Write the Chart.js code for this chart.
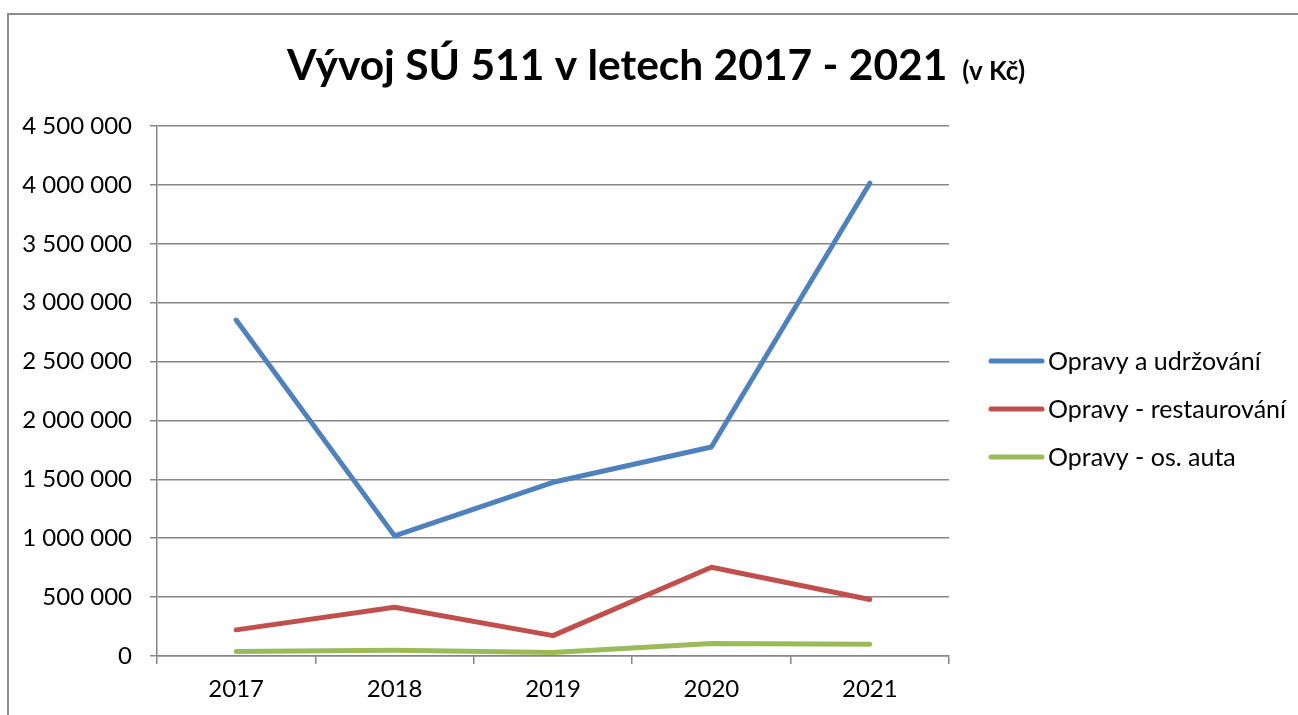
<!DOCTYPE html>
<html>
<head>
<meta charset="utf-8">
<script src="https://cdn.jsdelivr.net/npm/chart.js@4.4.0/dist/chart.umd.min.js"></script>
<style>
  body { margin: 0; background: #fff; overflow: hidden; }
  #frame { position: absolute; left: 7px; top: 13px; width: 1400px; height: 800px;
           border-top: 2px solid #8c8c8c; border-left: 2px solid #8c8c8c; }
  #chart { position: absolute; left: 0; top: 0; }
</style>
</head>
<body>
<div id="frame"></div>
<canvas id="chart" width="1298" height="715"></canvas>
<script>
const years = ['2017', '2018', '2019', '2020', '2021'];
const opravyUdrzovani = [2852000, 1020000, 1475000, 1775000, 4014000];
const opravyRestaurovani = [222000, 414000, 173000, 754000, 480000];
const opravyAuta = [38000, 48000, 30000, 106000, 100000];
const seriesNames = ['Opravy a udržování', 'Opravy - restaurování', 'Opravy - os. auta'];
const seriesColors = ['#4f81bd', '#c0504d', '#9bbb59'];

const gridColor = '#868686';
const fmt = v => String(v).replace(/\B(?=(\d{3})+(?!\d))/g, ' ');

// title with the smaller "(v Kč)" part
const titlePlugin = {
    id: 'excelTitle',
    afterDraw(chart) {
        const ctx = chart.ctx;
        const main = 'Vývoj SÚ 511 v letech 2017 - 2021';
        const unit = '(v Kč)';
        ctx.save();
        ctx.fillStyle = '#000';
        ctx.textBaseline = 'alphabetic';
        ctx.font = 'bold 42.5px Lato';
        const w1 = ctx.measureText(main).width;
        ctx.font = 'bold 26px Lato';
        const w2 = ctx.measureText(unit).width;
        const gap = 15;
        let x = 656 - (w1 + gap + w2) / 2;
        ctx.font = 'bold 42.5px Lato';
        ctx.fillText(main, x, 80);
        ctx.font = 'bold 26px Lato';
        ctx.fillText(unit, x + w1 + gap, 80);
        ctx.restore();
    }
};

// legend drawn on the right like the Excel one
const legendPlugin = {
    id: 'excelLegend',
    afterDraw(chart) {
        const ctx = chart.ctx;
        ctx.save();
        ctx.font = '25px Lato';
        ctx.textBaseline = 'middle';
        chart.data.datasets.forEach((ds, i) => {
            const y = 361 + i * 48;
            ctx.strokeStyle = ds.borderColor;
            ctx.lineWidth = 5;
            ctx.lineCap = 'round';
            ctx.beginPath();
            ctx.moveTo(991, y);
            ctx.lineTo(1042, y);
            ctx.stroke();
            ctx.fillStyle = '#000';
            ctx.fillText(ds.label, 1048, y + 1);
        });
        ctx.restore();
    }
};

const makeSet = (i, data) => ({
    label: seriesNames[i],
    data: data,
    borderColor: seriesColors[i],
    backgroundColor: seriesColors[i],
    borderWidth: 5,
    borderCapStyle: 'round',
    borderJoinStyle: 'round',
    pointRadius: 0,
    tension: 0
});

new Chart(document.getElementById('chart'), {
    type: 'line',
    data: {
        labels: years,
        datasets: [
            makeSet(0, opravyUdrzovani),
            makeSet(1, opravyRestaurovani),
            makeSet(2, opravyAuta)
        ]
    },
    options: {
        responsive: false,
        animation: false,
        layout: { padding: { left: 0, top: 126, right: 349, bottom: 0 } },
        plugins: { legend: { display: false }, title: { display: false }, tooltip: { enabled: false } },
        scales: {
            x: {
                offset: true,
                grid: { offset: true, drawOnChartArea: false, drawTicks: true, tickLength: 8, color: gridColor, lineWidth: 1.5 },
                border: { color: gridColor, width: 1.5 },
                ticks: { color: '#000', font: { family: 'Lato', size: 24 }, padding: 11 },
                afterFit(scale) { scale.height = 59; }
            },
            y: {
                min: 0,
                max: 4500000,
                ticks: { stepSize: 500000, color: '#000', font: { family: 'Lato', size: 24 }, padding: 18, callback: v => fmt(v) },
                grid: { color: gridColor, lineWidth: 1.5, tickLength: 7 },
                border: { color: gridColor, width: 1.5 },
                afterFit(scale) { scale.width = 157; }
            }
        }
    },
    plugins: [titlePlugin, legendPlugin]
});
</script>
</body>
</html>
